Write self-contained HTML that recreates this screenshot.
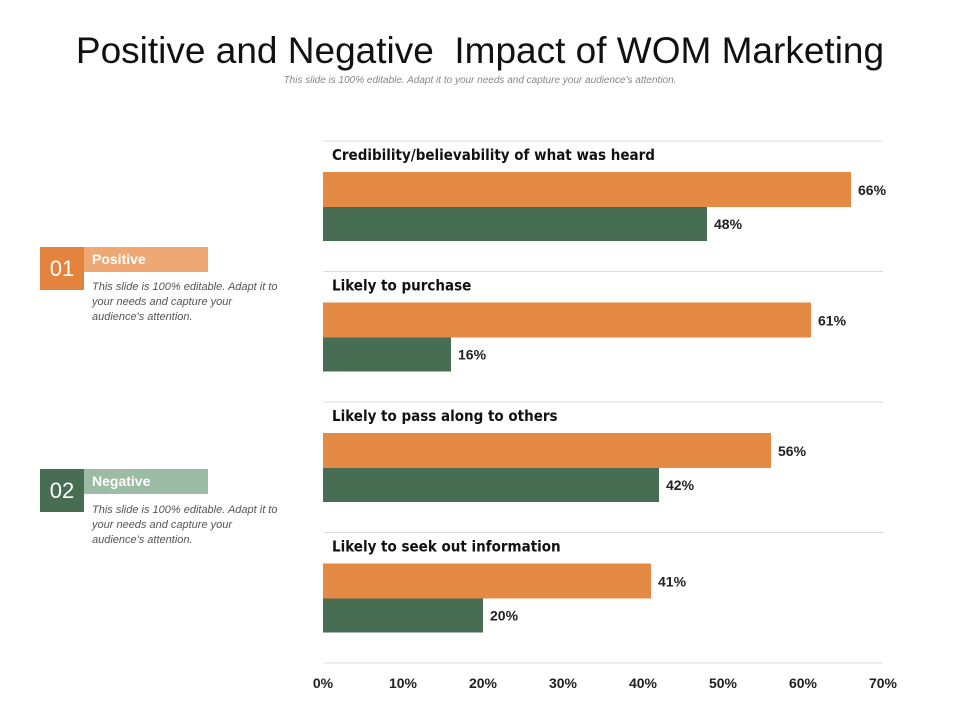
<!DOCTYPE html>
<html><head><meta charset="utf-8"><style>
body{margin:0;width:960px;height:720px;background:#fff;font-family:"Liberation Sans",sans-serif;position:relative;overflow:hidden}
.abs{position:absolute}
h1{position:absolute;left:0;width:960px;top:30px;margin:0;text-align:center;font-weight:normal;font-size:37px;color:#111}
.sub{left:0;width:960px;top:75px;text-align:center;font-size:10px;font-style:italic;color:#888}
.num{width:44px;height:43px;color:#fff;font-size:22px;display:flex;align-items:center;justify-content:center}
.tag{height:25px;width:124px;color:#fff;font-weight:bold;font-size:14px;line-height:25px;padding-left:8px;box-sizing:border-box}
.desc{width:190px;font-size:11px;font-style:italic;color:#555;line-height:15px}
</style></head><body>
<h1>Positive and Negative&nbsp; Impact of WOM Marketing</h1>
<div class="abs sub">This slide is 100% editable. Adapt it to your needs and capture your audience's attention.</div>

<div class="abs num" style="left:40px;top:247px;background:#e3833d">01</div>
<div class="abs tag" style="left:84px;top:247px;background:#eda873">Positive</div>
<div class="abs desc" style="left:92px;top:280px">This slide is 100% editable. Adapt it to your needs and capture your audience's attention.</div>

<div class="abs num" style="left:40px;top:469px;background:#476e53">02</div>
<div class="abs tag" style="left:84px;top:469px;background:#9cbba4">Negative</div>
<div class="abs desc" style="left:92px;top:503px">This slide is 100% editable. Adapt it to your needs and capture your audience's attention.</div>

<svg class="abs" style="left:0;top:0" width="960" height="720"></svg>
<script>
const categories=["Credibility/believability of what was heard","Likely to purchase","Likely to pass along to others","Likely to seek out information"];
const positiveValues=[66,61,56,41];
const negativeValues=[48,16,42,20];
const tickLabels=["0%","10%","20%","30%","40%","50%","60%","70%"];
const tickValues=[0,10,20,30,40,50,60,70];
const svg=document.querySelector('svg');
const NS="http://www.w3.org/2000/svg";
const x=v=>323+v*8;
const gy=i=>141+i*130.5;
function mk(t,a,txt){const e=document.createElementNS(NS,t);for(const k in a)e.setAttribute(k,a[k]);if(txt!=null)e.textContent=txt;svg.appendChild(e);return e;}
for(let i=0;i<=categories.length;i++){
 const l=mk('line',{x1:323,x2:883,y1:gy(i),y2:gy(i),stroke:'#ddd','stroke-width':1});
 
 
}
categories.forEach((c,i)=>{
 const y0=gy(i);
 const t=mk('text',{x:332,y:y0+19,'font-size':15,'font-weight':'bold',fill:'#111','font-family':'"DejaVu Sans Condensed","Liberation Sans Narrow","Liberation Sans",sans-serif'},c);
 
 
 const b1=mk('rect',{x:x(0),y:y0+31,width:x(positiveValues[i])-x(0),height:35,fill:'#e58a44'});
 
 
 const b2=mk('rect',{x:x(0),y:y0+66,width:x(negativeValues[i])-x(0),height:34,fill:'#476e53'});
 
 
 const v1=mk('text',{x:x(positiveValues[i])+7,y:y0+54,'font-size':14,'font-weight':'bold',fill:'#222'},positiveValues[i]+'%');
 
 
 const v2=mk('text',{x:x(negativeValues[i])+7,y:y0+88,'font-size':14,'font-weight':'bold',fill:'#222'},negativeValues[i]+'%');
 
 
});
tickValues.forEach((v,i)=>{
 const t=mk('text',{x:x(v),y:688,'font-size':14,'font-weight':'bold',fill:'#222','text-anchor':'middle'},tickLabels[i]);
 
 
});
</script>
</body></html>
